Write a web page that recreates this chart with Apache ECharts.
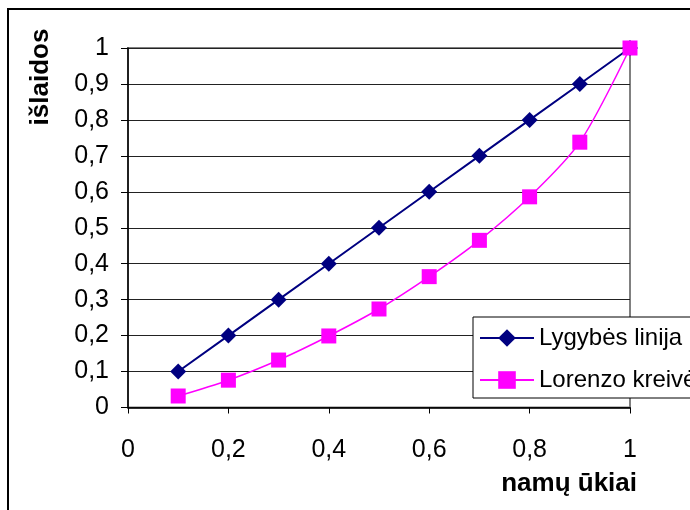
<!DOCTYPE html>
<html>
<head>
<meta charset="utf-8">
<script src="https://cdn.jsdelivr.net/npm/echarts@6/dist/echarts.min.js"></script>
<style>
    html, body { margin: 0; padding: 0; background: #fff; }
    #chart { width: 690px; height: 510px; }
</style>
</head>
<body>
<div id="chart"></div>
<script>
// duomenys
const namuUkiai = [0.1, 0.2, 0.3, 0.4, 0.5, 0.6, 0.7, 0.8, 0.9, 1]
const lygybesLinija = [0.1, 0.2, 0.3, 0.4, 0.5, 0.6, 0.7, 0.8, 0.9, 1]
const lorenzoKreive = [0.032, 0.076, 0.132, 0.199, 0.274, 0.364, 0.465, 0.586, 0.738, 1]
const serijuVardai = ['Lygybės linija', 'Lorenzo kreivė']

const kablelis = (v) => String(v).replace('.', ',')
const poros = (ys) => namuUkiai.map((x, i) => [x, ys[i]])

const chart = echarts.init(document.getElementById('chart'))
const font = 'Liberation Sans, Arial, sans-serif'

const option = {
    animation: false,
    backgroundColor: '#fff',
    grid: {
        left: 128,
        right: 60,
        top: 48,
        bottom: 102.5,
        show: true,
        borderColor: '#808080',
        borderWidth: 2
    },
    xAxis: {
        type: 'value',
        min: 0,
        max: 1,
        interval: 0.2,
        axisLine: { lineStyle: { color: '#000', width: 1.5 } },
        axisTick: { show: true, length: 6, lineStyle: { color: '#000' } },
        splitLine: { show: false },
        axisLabel: {
            color: '#000',
            fontFamily: font,
            fontSize: 25,
            margin: 30,
            formatter: kablelis
        }
    },
    yAxis: {
        type: 'value',
        min: 0,
        max: 1,
        interval: 0.1,
        axisLine: { show: true, lineStyle: { color: '#000', width: 1.5 } },
        axisTick: { show: true, length: 7, lineStyle: { color: '#000' } },
        splitLine: { show: true, lineStyle: { color: '#222', width: 1 } },
        axisLabel: {
            color: '#000',
            fontFamily: font,
            fontSize: 25,
            margin: 19,
            formatter: kablelis
        }
    },
    legend: {
        orient: 'vertical',
        left: 473,
        top: 317,
        padding: [9, 8, 6, 6],
        itemGap: 18,
        itemWidth: 54,
        itemHeight: 22,
        backgroundColor: '#fff',
        borderColor: '#000',
        borderWidth: 1,
        borderRadius: 0,
        textStyle: { color: '#000', fontFamily: font, fontSize: 24 },
        data: serijuVardai
    },
    series: [
        {
            name: serijuVardai[0],
            type: 'line',
            data: poros(lygybesLinija),
            symbol: 'diamond',
            symbolSize: 16,
            color: '#000080',
            lineStyle: { color: '#000080', width: 2 },
            itemStyle: { color: '#000080' },
            z: 2
        },
        {
            name: serijuVardai[1],
            type: 'line',
            data: poros(lorenzoKreive),
            symbol: 'rect',
            symbolSize: 15,
            smooth: 0.3,
            color: '#ff00ff',
            lineStyle: { color: '#ff00ff', width: 1.5 },
            itemStyle: { color: '#ff00ff' },
            z: 3
        }
    ],
    graphic: [
        {
            type: 'rect',
            shape: { x: 8, y: 9, width: 900, height: 900 },
            style: { fill: 'none', stroke: '#000', lineWidth: 2 },
            silent: true
        },
        {
            type: 'text',
            x: 41,
            y: 77,
            rotation: Math.PI / 2,
            style: {
                text: 'išlaidos',
                fill: '#000',
                font: 'bold 26px ' + font,
                align: 'center',
                verticalAlign: 'middle'
            }
        },
        {
            type: 'text',
            x: 637,
            y: 484,
            style: {
                text: 'namų ūkiai',
                fill: '#000',
                font: 'bold 26px ' + font,
                align: 'right',
                verticalAlign: 'middle'
            }
        }
    ]
}
chart.setOption(option)
</script>
</body>
</html>
